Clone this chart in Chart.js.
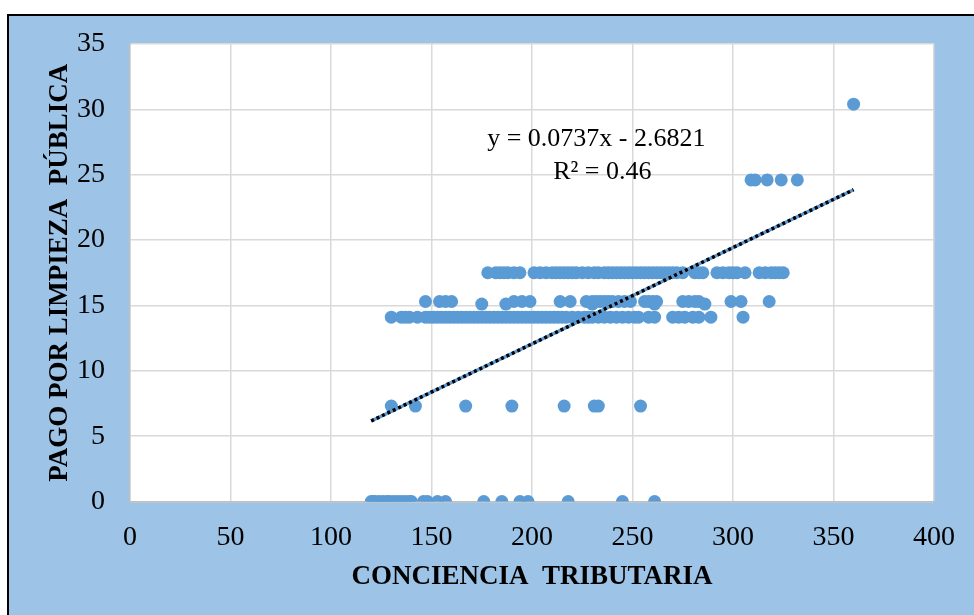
<!DOCTYPE html>
<html lang="es">
<head>
  <meta charset="UTF-8" />
  <title>Pago por limpieza pública vs conciencia tributaria</title>
  <script src="https://cdn.jsdelivr.net/npm/chart.js"></script>
  <style>
    body { margin: 0; background: white; }
    canvas { display: block; }
  </style>
</head>
<body>
  <canvas id="scatterChart" width="974" height="615"></canvas>

  <script>
    // y levels and the x values found on each level
    const level0 = 0;
    const x0 = [120, 121, 122, 124, 126, 128, 129, 131, 133, 135, 137, 139, 140, 146, 148, 153, 157, 176, 185, 194, 198, 218, 245, 261];

    const level7 = 7.3;
    const x7 = [130, 142, 167, 190, 216, 231, 233, 254];

    const level14 = 14.1;
    const x14 = [130, 135, 137, 139, 143, 147, 149, 151, 153, 155, 157, 159, 161, 163, 165, 167, 169, 171, 173, 175,
                 177, 179, 181, 183, 185, 187, 189, 191, 193, 195, 197, 199, 201, 203, 205, 207, 209, 211, 213, 215,
                 217, 220, 223, 226, 228, 230, 233, 236, 239, 242, 245, 248, 251, 253, 258, 261, 270, 273, 276, 280,
                 283, 289, 305];

    const level15 = 15.3;
    const x15 = [147, 154, 157, 160, 191, 195, 199, 214, 219, 227, 230, 232, 234, 236, 238, 240, 243, 246, 249,
                 256, 258, 260, 262, 275, 278, 281, 283, 299, 304, 318];

    const level15b = 15.1;
    const x15b = [175, 187, 230, 261, 286];

    const level17 = 17.5;
    const x17 = [178, 182, 184, 186, 188, 191, 194, 201, 204, 207, 210, 212, 214, 216, 218, 220, 222, 225, 228,
                 231, 233, 236, 238, 240, 242, 244, 246, 248, 250, 252, 254, 256, 258, 260, 262, 264, 266, 268,
                 270, 272, 275, 281, 283, 285, 292, 295, 298, 300, 302, 306, 313, 316, 319, 321, 323, 325];

    const level24 = 24.6;
    const x24 = [309, 311, 317, 324, 332];

    const level30 = 30.4;
    const x30 = [360];

    // linear trend line ends
    const trendX = [120, 360];
    const trendY = [6.16, 23.85];

    const equationText = ["y = 0.0737x - 2.6821", "R² = 0.46"];

    const xTitle = "CONCIENCIA  TRIBUTARIA";
    const yTitle = "PAGO POR LIMPIEZA  PÚBLICA";

    const rows = [
      [level0, x0], [level7, x7], [level14, x14], [level15, x15],
      [level15b, x15b], [level17, x17], [level24, x24], [level30, x30]
    ];
    const points = [];
    rows.forEach(([y, xs]) => xs.forEach(x => points.push({ x: x, y: y })));

    const trendPoints = trendX.map((x, i) => ({ x: x, y: trendY[i] }));

    const serif = "'Liberation Serif', 'Times New Roman', serif";

    // page frame, blue background and white plot area
    const backgroundPlugin = {
      id: "backgroundPlugin",
      beforeDraw(chart) {
        const ctx = chart.ctx;
        const a = chart.chartArea;
        ctx.save();
        ctx.fillStyle = "#ffffff";
        ctx.fillRect(0, 0, chart.width, chart.height);
        ctx.fillStyle = "#9dc3e6";
        ctx.fillRect(9, 16, chart.width - 9, chart.height - 16);
        ctx.strokeStyle = "#000000";
        ctx.lineWidth = 2;
        ctx.beginPath();
        ctx.moveTo(8, chart.height);
        ctx.lineTo(8, 15);
        ctx.lineTo(chart.width, 15);
        ctx.stroke();
        ctx.fillStyle = "#ffffff";
        ctx.fillRect(a.left, a.top, a.right - a.left, a.bottom - a.top);
        ctx.restore();
      }
    };

    // trend line equation
    const equationPlugin = {
      id: "equationPlugin",
      afterDatasetsDraw(chart) {
        const ctx = chart.ctx;
        const xs = chart.scales.x;
        const ys = chart.scales.y;
        ctx.save();
        ctx.fillStyle = "#000000";
        ctx.font = "26px " + serif;
        ctx.textAlign = "center";
        ctx.textBaseline = "middle";
        ctx.fillText(equationText[0], xs.getPixelForValue(232), ys.getPixelForValue(27.7));
        ctx.fillText(equationText[1], xs.getPixelForValue(235), ys.getPixelForValue(25.2));
        ctx.restore();
      }
    };

    new Chart(document.getElementById("scatterChart"), {
      type: "scatter",
      data: {
        datasets: [
          {
            label: "Tendencia",
            type: "line",
            data: trendPoints,
            borderColor: "#000000",
            borderWidth: 3.5,
            borderDash: [3, 3],
            pointRadius: 0,
            fill: false,
            order: 0
          },
          {
            label: "Tendencia base",
            type: "line",
            data: trendPoints,
            borderColor: "#5b9bd5",
            borderWidth: 3.5,
            pointRadius: 0,
            fill: false,
            order: 1
          },
          {
            label: "Datos",
            data: points,
            backgroundColor: "#5b9bd5",
            borderColor: "#5b9bd5",
            borderWidth: 0,
            pointRadius: 6.5,
            order: 2
          }
        ]
      },
      options: {
        responsive: false,
        devicePixelRatio: 1,
        animation: false,
        layout: { padding: { left: 0, top: 44, right: 35, bottom: 0 } },
        plugins: {
          legend: { display: false },
          tooltip: { enabled: false }
        },
        scales: {
          x: {
            type: "linear",
            min: 0,
            max: 400,
            afterFit(scale) { scale.height = 113.5; },
            ticks: {
              stepSize: 50,
              padding: 19,
              color: "#000000",
              font: { family: serif, size: 28 },
              maxRotation: 0
            },
            grid: { color: "#d9d9d9", lineWidth: 1.5, drawTicks: false },
            border: { color: "#bfbfbf", width: 1.5 },
            title: {
              display: true,
              text: xTitle,
              color: "#000000",
              font: { family: serif, size: 27, weight: "bold" },
              padding: { top: 0, bottom: 22 }
            }
          },
          y: {
            type: "linear",
            min: 0,
            max: 35,
            afterFit(scale) { scale.width = 130; },
            ticks: {
              stepSize: 5,
              padding: 25,
              color: "#000000",
              font: { family: serif, size: 28 }
            },
            grid: { color: "#d9d9d9", lineWidth: 1.5, drawTicks: false },
            border: { color: "#bfbfbf", width: 1.5 },
            title: {
              display: true,
              text: yTitle,
              color: "#000000",
              font: { family: serif, size: 27, weight: "bold" },
              padding: { top: 44, bottom: 0 }
            }
          }
        }
      },
      plugins: [backgroundPlugin, equationPlugin]
    });
  </script>
</body>
</html>
